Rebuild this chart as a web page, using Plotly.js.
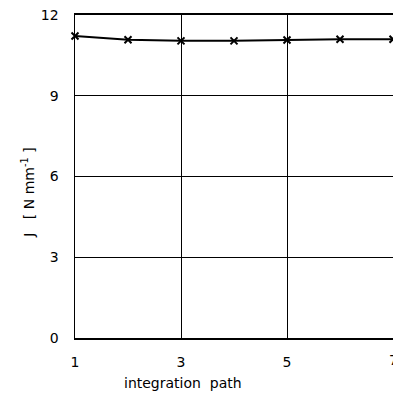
<!DOCTYPE html>
<html>
<head>
<meta charset="utf-8">
<script src="https://cdn.plot.ly/plotly-3.0.1.min.js"></script>
<style>html,body{margin:0;padding:0;background:#fff;}</style>
</head>
<body>
<div id="chart" style="width:393px;height:399px;"></div>
<script>
var pathIndex = [1, 2, 3, 4, 5, 6, 7];
var jValues = [11.22, 11.08, 11.04, 11.04, 11.07, 11.1, 11.1];
var xTicks = [1, 3, 5];
var xLastTick = 7;
var yTicks = [0, 3, 6, 9, 12];

var trace = {
  x: pathIndex, y: jValues, mode: 'lines+markers', type: 'scatter',
  line: {color: '#000', width: 2},
  marker: {symbol: 'x-thin', size: 7, color: '#000', line: {color: '#000', width: 2}},
  cliponaxis: false, showlegend: false
};

var layout = {
  width: 393, height: 399,
  margin: {l: 75, r: 0, t: 15, b: 61},
  paper_bgcolor: '#fff', plot_bgcolor: '#fff',
  font: {family: 'DejaVu Sans, sans-serif', color: '#000', size: 14},
  xaxis: {
    range: [1, 7], tickvals: xTicks.concat([xLastTick]), ticktext: xTicks.map(String).concat(['']),
    showgrid: true, gridcolor: '#000', gridwidth: 1,
    zeroline: false, showline: true, linecolor: '#000', linewidth: 2,
    mirror: true, ticks: '', ticklabelstandoff: 10
  },
  yaxis: {
    range: [0, 12], tickvals: yTicks, ticktext: yTicks.map(String),
    showgrid: true, gridcolor: '#000', gridwidth: 1,
    zeroline: false, showline: true, linecolor: '#000', linewidth: 1.5,
    mirror: true, ticks: '', ticklabelstandoff: 12
  },
  annotations: [
    {text: String(xLastTick), xref: 'x', yref: 'paper', x: xLastTick, y: 0, yshift: -22,
     showarrow: false, font: {size: 14, color: '#000'}, xanchor: 'center', yanchor: 'middle'},
    {text: 'integration  path', xref: 'x', yref: 'paper', x: 3.04, y: 0, yshift: -45,
     showarrow: false, font: {size: 14, color: '#000'}, xanchor: 'center', yanchor: 'middle'},
    {text: 'J   [ N mm<sup>-1</sup> ]', xref: 'paper', yref: 'paper', x: 0, xshift: -47, y: 0.45,
     textangle: -90, showarrow: false, font: {size: 14, color: '#000'}, xanchor: 'center', yanchor: 'middle'}
  ]
};

Plotly.newPlot('chart', [trace], layout, {displayModeBar: false, staticPlot: true});
</script>
</body>
</html>
